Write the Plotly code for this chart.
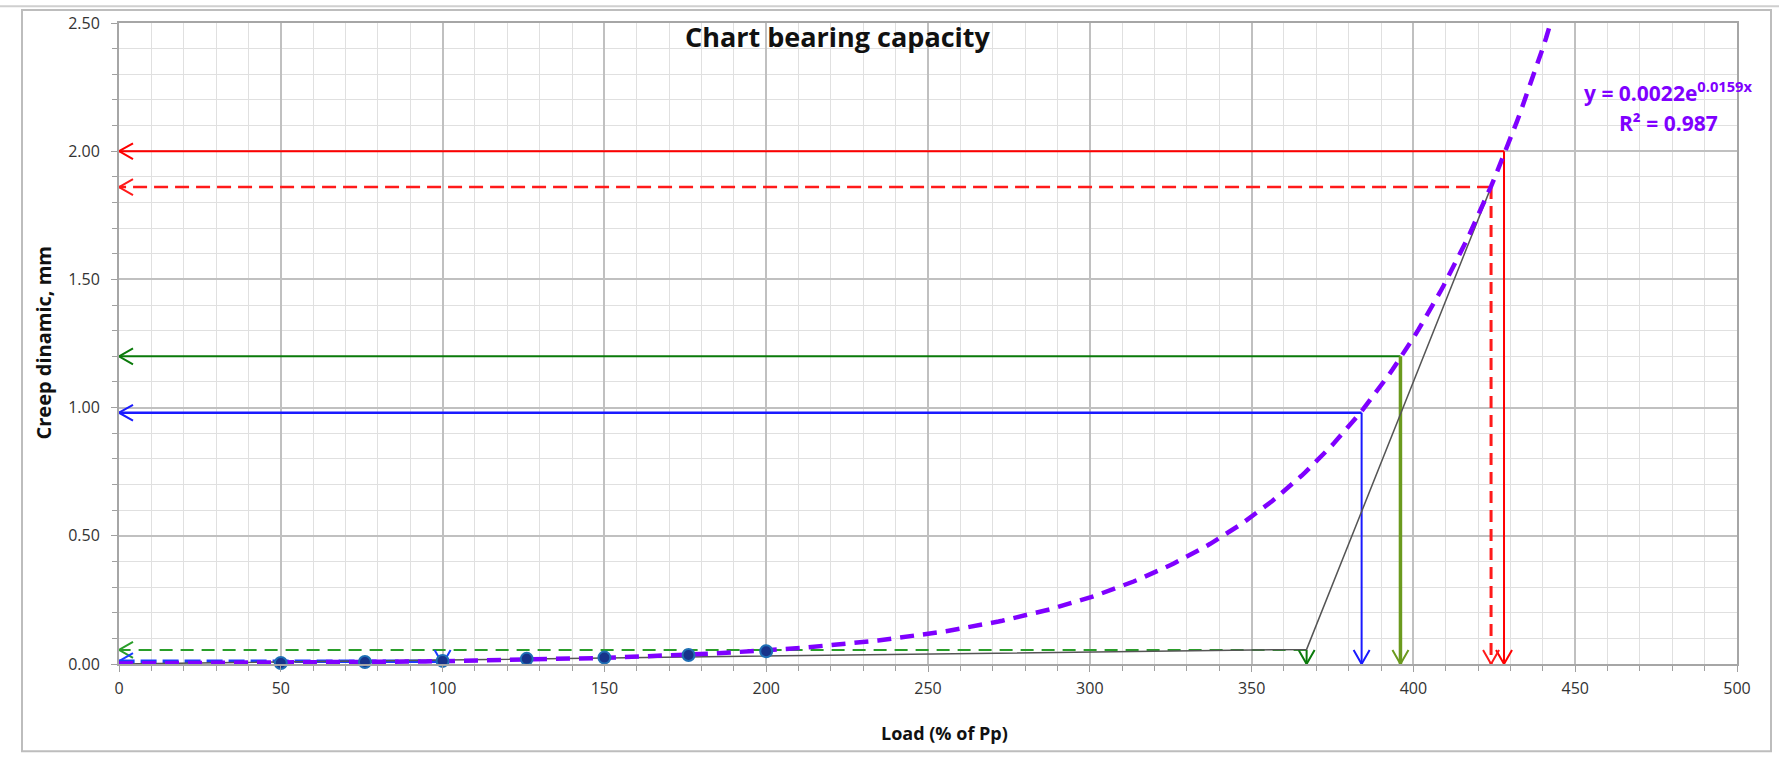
import numpy as np
import plotly.graph_objects as go

# ---------------- data ----------------
LOAD_PTS = [50, 76, 100, 126, 150, 176, 200]
CREEP_PTS = [0.004, 0.008, 0.012, 0.020, 0.025, 0.035, 0.050]

# exponential trendline shown on the chart: y = 0.0022 e^(0.0159 x)
TREND_A = 0.0022
TREND_B = 0.0159
TREND_X_MAX = 450

# grey tangent construction line
TANGENT_X = [0, 367, 424]
TANGENT_Y = [0.0, 0.057, 1.86]

# arrow constructions: corner (load, creep) -> arrows to both axes
ARROW_X = [428, 424, 396, 384, 367, 100]
ARROW_Y = [2.00, 1.86, 1.20, 0.98, 0.055, 0.011]
ARROW_H_COLOR = ["#ff0000", "#ff1a1a", "#0a7a0a", "#1a1aff", "#2a9e2a", "#1a3cff"]
ARROW_H_DASH = ["solid", "14px,7px", "solid", "solid", "13px,8px", "16px,6px"]
ARROW_H_WIDTH = [2, 2.5, 2, 2.5, 2, 3.5]
ARROW_V_COLOR = ["#ff0000", "#ff1a1a", "#6b9a1e", "#1a1aff", "#0a7a0a", "#1a3cff"]
ARROW_V_DASH = ["solid", "12px,7px", "solid", "solid", "solid", "solid"]
ARROW_V_WIDTH = [2, 3, 3.5, 2, 2, 2]

X_TICKS = list(range(0, 501, 50))
Y_TICKS = [0, 0.5, 1.0, 1.5, 2.0, 2.5]

# ---------------- geometry ----------------
W, H = 1779, 765
ML, MR, MT, MB = 119, 42, 18, 101
X_RANGE = [0, 500]
Y_RANGE = [0, 2.5]
PX_PER_X = (W - ML - MR) / (X_RANGE[1] - X_RANGE[0])
PX_PER_Y = (H - MT - MB) / (Y_RANGE[1] - Y_RANGE[0])
HEAD_LEN = 14   # px
HEAD_HALF = 8   # px

FONT = "Open Sans"

fig = go.Figure()

for i in range(len(ARROW_X)):
    xc, yc = ARROW_X[i], ARROW_Y[i]
    fig.add_trace(go.Scatter(x=[xc, 0], y=[yc, yc], mode="lines",
                             line=dict(color=ARROW_H_COLOR[i], width=ARROW_H_WIDTH[i], dash=ARROW_H_DASH[i]),
                             hoverinfo="skip", showlegend=False))
    dx = HEAD_LEN / PX_PER_X
    dy = HEAD_HALF / PX_PER_Y
    fig.add_trace(go.Scatter(x=[dx, 0, dx], y=[yc + dy, yc, yc - dy], mode="lines",
                             line=dict(color=ARROW_H_COLOR[i], width=2),
                             hoverinfo="skip", showlegend=False))
    fig.add_trace(go.Scatter(x=[xc, xc], y=[yc, 0], mode="lines",
                             line=dict(color=ARROW_V_COLOR[i], width=ARROW_V_WIDTH[i], dash=ARROW_V_DASH[i]),
                             hoverinfo="skip", showlegend=False))
    dx2 = HEAD_HALF / PX_PER_X
    dy2 = HEAD_LEN / PX_PER_Y
    fig.add_trace(go.Scatter(x=[xc - dx2, xc, xc + dx2], y=[dy2, 0, dy2], mode="lines",
                             line=dict(color=ARROW_V_COLOR[i], width=2),
                             hoverinfo="skip", showlegend=False))

# grey tangent line
fig.add_trace(go.Scatter(x=TANGENT_X, y=TANGENT_Y, mode="lines",
                         line=dict(color="#555555", width=1.5),
                         hoverinfo="skip", showlegend=False))

# trendline from the displayed equation
tx = np.linspace(0, TREND_X_MAX, 400)
ty = TREND_A * np.exp(TREND_B * tx)
fig.add_trace(go.Scatter(x=tx, y=ty, mode="lines",
                         line=dict(color="#7f00ff", width=4.5, dash="14px,9px"),
                         hoverinfo="skip", showlegend=False))

# measured points
fig.add_trace(go.Scatter(x=LOAD_PTS, y=CREEP_PTS, mode="markers",
                         marker=dict(size=12, color="#17338a", line=dict(color="#1f6fb5", width=2)),
                         cliponaxis=False, showlegend=False))

axis_font = dict(family=FONT, size=16, color="#333333")
fig.update_xaxes(range=X_RANGE, tickvals=X_TICKS, ticks="outside", ticklen=6, tickcolor="#a0a0a0",
                 showgrid=True, gridcolor="#c0c0c0", gridwidth=1.5,
                 minor=dict(dtick=10, showgrid=True, gridcolor="#e0e0e0", gridwidth=1.2,
                            ticks="outside", ticklen=5, tickcolor="#a0a0a0"),
                 showline=True, linecolor="#a6a6a6", linewidth=2, mirror=True, zeroline=False,
                 tickfont=axis_font, ticklabelstandoff=3)
fig.update_yaxes(range=Y_RANGE, tickvals=Y_TICKS, tickformat=".2f", ticks="outside", ticklen=6,
                 tickcolor="#a0a0a0",
                 showgrid=True, gridcolor="#c0c0c0", gridwidth=1.5,
                 minor=dict(dtick=0.1, showgrid=True, gridcolor="#e0e0e0", gridwidth=1.2,
                            ticks="outside", ticklen=5, tickcolor="#a0a0a0"),
                 showline=True, linecolor="#a6a6a6", linewidth=2, mirror=True, zeroline=False,
                 tickfont=axis_font, ticklabelstandoff=8)

pw = W - ML - MR
ph = H - MT - MB
def px(xp):
    return (xp - ML) / pw
def py(yp):
    return (H - MB - yp) / ph

annotations = [
    dict(text="Chart bearing capacity", x=px(838), y=py(32), xref="paper", yref="paper",
         showarrow=False, xanchor="center", yanchor="middle",
         font=dict(family=FONT, size=27, color="#111111", weight="bold")),
    dict(text="y = 0.0022e<sup>0.0159x</sup>", x=px(1668), y=py(87), xref="paper", yref="paper",
         showarrow=False, xanchor="center", yanchor="middle",
         font=dict(family=FONT, size=21, color="#7f00ff", weight="bold")),
    dict(text="R² = 0.987", x=px(1668), y=py(119), xref="paper", yref="paper",
         showarrow=False, xanchor="center", yanchor="middle",
         font=dict(family=FONT, size=21, color="#7f00ff", weight="bold")),
    dict(text="Load (% of Pp)", x=px(944), y=py(734), xref="paper", yref="paper",
         showarrow=False, xanchor="center", yanchor="middle",
         font=dict(family=FONT, size=18, color="#111111", weight="bold")),
    dict(text="Creep dinamic, mm", x=px(44), y=py(340), xref="paper", yref="paper",
         showarrow=False, xanchor="center", yanchor="middle", textangle=-90,
         font=dict(family=FONT, size=20, color="#111111", weight="bold")),
]

shapes = [
    dict(type="rect", xref="paper", yref="paper", x0=px(22), x1=px(1771), y0=py(752), y1=py(5),
         line=dict(color="#bdbdbd", width=2), fillcolor="rgba(0,0,0,0)", layer="below"),
    dict(type="line", xref="paper", yref="paper", x0=px(0), x1=px(W), y0=py(1), y1=py(1),
         line=dict(color="#cfcfcf", width=2)),
]

fig.update_layout(width=W, height=H, margin=dict(l=ML, r=MR, t=MT, b=MB),
                  paper_bgcolor="white", plot_bgcolor="white",
                  annotations=annotations, shapes=shapes, showlegend=False)

fig.write_html("out.html")
